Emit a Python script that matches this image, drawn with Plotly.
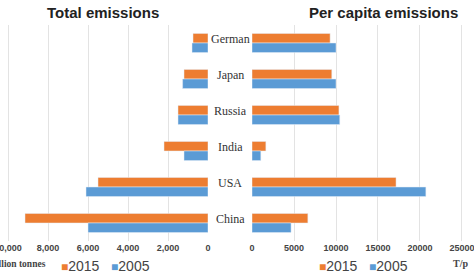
import plotly.graph_objects as go

countries = ["German", "Japan", "Russia", "India", "USA", "China"]
total_2015 = [750, 1200, 1500, 2200, 5500, 9150]
total_2005 = [800, 1270, 1500, 1200, 6100, 6000]
capita_2015 = [9300, 9500, 10350, 1650, 17150, 6650]
capita_2005 = [10000, 10000, 10450, 1050, 20700, 4650]
left_ticks = [0, 2000, 4000, 6000, 8000, 10000]
right_ticks = [0, 5000, 10000, 15000, 20000, 25000]
series_names = ["2015", "2005"]

ORANGE = "#ED7D31"
BLUE = "#5B9BD5"
W, H = 474, 278

fig = go.Figure()
fig.add_trace(go.Bar(y=countries, x=total_2015, orientation="h", name=series_names[0],
                     marker_color=ORANGE, xaxis="x", yaxis="y"))
fig.add_trace(go.Bar(y=countries, x=total_2005, orientation="h", name=series_names[1],
                     marker_color=BLUE, xaxis="x", yaxis="y"))
fig.add_trace(go.Bar(y=countries, x=capita_2015, orientation="h", name=series_names[0],
                     marker_color=ORANGE, xaxis="x2", yaxis="y2"))
fig.add_trace(go.Bar(y=countries, x=capita_2005, orientation="h", name=series_names[1],
                     marker_color=BLUE, xaxis="x2", yaxis="y2"))

tickfont = dict(family="Liberation Sans, Arial", size=9, color="#444", weight="bold")
fig.update_layout(
    width=W, height=H,
    margin=dict(l=0, r=0, t=25, b=37, autoexpand=False),
    paper_bgcolor="white", plot_bgcolor="white",
    barmode="group", bargap=0.47, bargroupgap=0,
    showlegend=False,
    xaxis=dict(domain=[0, 208 / W], range=[10400, 0], tickvals=left_ticks,
               tickformat=",d", showgrid=True, gridcolor="#e3e3e3", gridwidth=1,
               zeroline=False, showline=False, tickfont=tickfont, ticks="",
               ticklabeloverflow="allow", automargin=False),
    xaxis2=dict(domain=[252 / W, 1], range=[0, 26430], tickvals=right_ticks,
                tickformat="d", showgrid=True, gridcolor="#e3e3e3", gridwidth=1,
                zeroline=False, showline=False, tickfont=tickfont, ticks="",
                ticklabeloverflow="allow", automargin=False),
    yaxis=dict(anchor="x", categoryorder="array", categoryarray=countries,
               autorange="reversed", showticklabels=False, showgrid=False, zeroline=False),
    yaxis2=dict(anchor="x2", categoryorder="array", categoryarray=countries,
                autorange="reversed", showticklabels=False, showgrid=False, zeroline=False),
)

legend_text = (f"<span style='color:{ORANGE};font-size:12px'>■</span>{series_names[0]}   "
               f"<span style='color:{BLUE};font-size:12px'>■</span>{series_names[1]}")
legend_font = dict(family="Liberation Sans, Arial", size=14, color="#444")

annotations = [
    dict(text="<b>Total emissions</b>", x=103 / W, y=1, xref="paper", yref="paper",
         yshift=13, xanchor="center", yanchor="middle", showarrow=False,
         font=dict(family="Liberation Sans, Arial", size=15, color="#222")),
    dict(text="<b>Per capita emissions</b>", x=383 / W, y=1, xref="paper", yref="paper",
         yshift=13, xanchor="center", yanchor="middle", showarrow=False,
         font=dict(family="Liberation Sans, Arial", size=15, color="#222")),
    dict(text="<b>Million tonnes</b>", x=48 / W, y=0, xref="paper", yref="paper",
         yshift=-23, xanchor="right", yanchor="middle", showarrow=False,
         font=dict(family="Liberation Serif, Times New Roman", size=9.5, color="#444")),
    dict(text="<b>T/p</b>", x=460 / W, y=0, xref="paper", yref="paper",
         yshift=-22, xanchor="center", yanchor="middle", showarrow=False,
         font=dict(family="Liberation Serif, Times New Roman", size=10, color="#444")),
    dict(text=legend_text, x=105 / W, y=0, xref="paper", yref="paper",
         yshift=-25, xanchor="center", yanchor="middle", showarrow=False, font=legend_font),
    dict(text=legend_text, x=363 / W, y=0, xref="paper", yref="paper",
         yshift=-25, xanchor="center", yanchor="middle", showarrow=False, font=legend_font),
]
for c in countries:
    annotations.append(dict(text=c, x=230 / W, y=c, xref="paper", yref="y",
                            yshift=4, xanchor="center", yanchor="middle", showarrow=False,
                            font=dict(family="Liberation Serif, Times New Roman", size=12,
                                      color="#333")))
fig.update_layout(annotations=annotations)

fig.write_html("out.html")
